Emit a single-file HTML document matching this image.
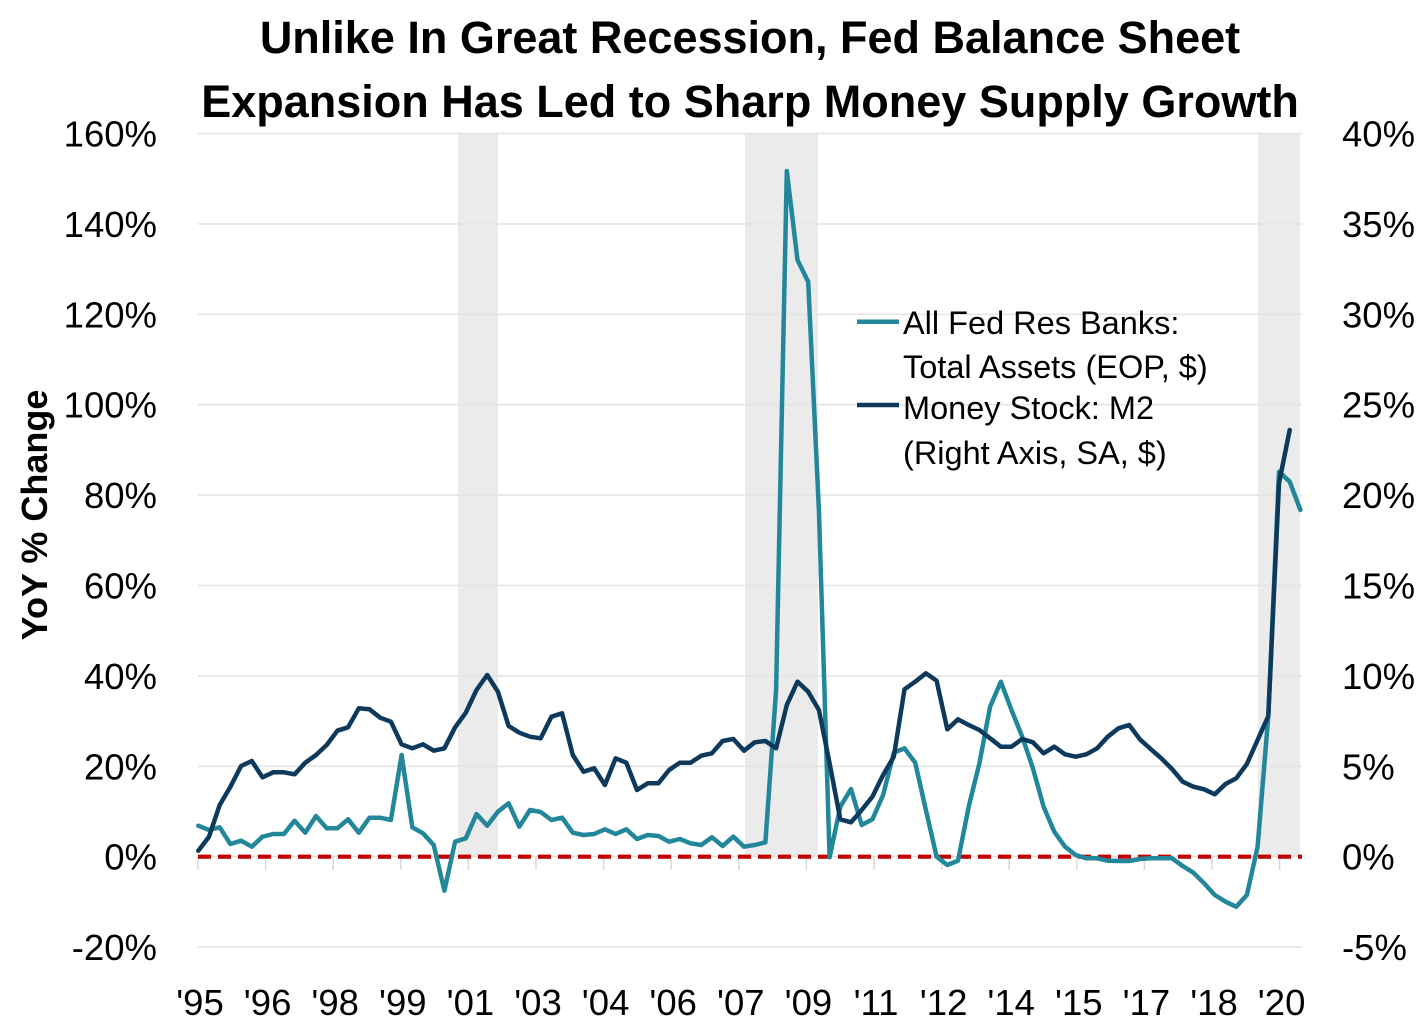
<!DOCTYPE html>
<html>
<head>
<meta charset="utf-8">
<style>
html,body{margin:0;padding:0;background:#fff;}
svg{display:block;}
text{font-family:"Liberation Sans",Arial,sans-serif;fill:#000;}
</style>
</head>
<body>
<svg width="1421" height="1031" viewBox="0 0 1421 1031" xmlns="http://www.w3.org/2000/svg">
<rect x="0" y="0" width="1421" height="1031" fill="#fff"/>

<!-- recession shading -->
<rect x="458" y="133.5" width="40" height="722.5" fill="#ebebeb"/>
<rect x="745" y="133.5" width="73" height="722.5" fill="#ebebeb"/>
<rect x="1258" y="133.5" width="42" height="722.5" fill="#ebebeb"/>

<!-- gridlines -->
<g stroke="#e4e4e4" stroke-width="1.6">
<line x1="198" y1="133.5" x2="1302" y2="133.5"/>
<line x1="198" y1="223.9" x2="1302" y2="223.9"/>
<line x1="198" y1="314.3" x2="1302" y2="314.3"/>
<line x1="198" y1="404.7" x2="1302" y2="404.7"/>
<line x1="198" y1="495.1" x2="1302" y2="495.1"/>
<line x1="198" y1="585.5" x2="1302" y2="585.5"/>
<line x1="198" y1="675.9" x2="1302" y2="675.9"/>
<line x1="198" y1="766.3" x2="1302" y2="766.3"/>
<line x1="198" y1="856.7" x2="1302" y2="856.7"/>
<line x1="198" y1="947.1" x2="1302" y2="947.1"/>
</g>

<!-- x ticks -->
<g stroke="#d9d9d9" stroke-width="1.5">
<line x1="198" y1="857" x2="198" y2="870"/>
<line x1="265.6" y1="857" x2="265.6" y2="870"/>
<line x1="333.2" y1="857" x2="333.2" y2="870"/>
<line x1="400.8" y1="857" x2="400.8" y2="870"/>
<line x1="468.4" y1="857" x2="468.4" y2="870"/>
<line x1="536" y1="857" x2="536" y2="870"/>
<line x1="603.6" y1="857" x2="603.6" y2="870"/>
<line x1="671.2" y1="857" x2="671.2" y2="870"/>
<line x1="738.8" y1="857" x2="738.8" y2="870"/>
<line x1="806.4" y1="857" x2="806.4" y2="870"/>
<line x1="874" y1="857" x2="874" y2="870"/>
<line x1="941.6" y1="857" x2="941.6" y2="870"/>
<line x1="1009.2" y1="857" x2="1009.2" y2="870"/>
<line x1="1076.8" y1="857" x2="1076.8" y2="870"/>
<line x1="1144.4" y1="857" x2="1144.4" y2="870"/>
<line x1="1212" y1="857" x2="1212" y2="870"/>
<line x1="1279.6" y1="857" x2="1279.6" y2="870"/>
</g>

<!-- zero dashed line -->
<line x1="198" y1="856.7" x2="1302" y2="856.7" stroke="#c00000" stroke-width="4.2" stroke-dasharray="13 7"/>

<!-- Fed total assets (teal) -->
<polyline fill="none" stroke="#23879b" stroke-width="4.5" stroke-linejoin="round" stroke-linecap="round" points="198.3,825.7 209,830 219.7,827.3 230.4,844 241.1,840.7 251.8,846.7 262.5,836.7 273.2,834 283.9,834 294.6,820.7 305.3,832.7 316,816 326.7,828.3 337.4,828.3 348.1,819.3 358.8,832.7 369.5,817.7 380.2,817.7 390.9,820 401.6,755 412.3,827.3 423,833.3 433.7,845 444.4,890.7 455.1,841.7 465.8,838.3 476.5,814 487.2,825.7 497.9,811.7 508.6,803.3 519.3,826.7 530,810 540.7,812 551.4,820 562.1,817.7 572.8,832.7 583.5,835 594.2,834 604.9,829.3 615.6,834 626.3,829.3 637,839 647.7,835 658.4,836 669.1,841.7 679.8,839 690.5,843.3 701.2,845 711.9,837.3 722.6,846 733.3,836.7 744,846.7 754.7,845 765.4,842.3 776.1,690 786.8,171 797.5,260 808.2,281.7 818.9,510 829.6,857.3 840.3,806.7 851,789 861.7,825 872.4,819.3 883.1,795 893.8,752.7 904.5,748.3 915.2,762.7 925.9,810 936.6,856.7 947.3,865 958,860.7 968.7,806.7 979.4,763.3 990.1,706.7 1000.8,681.7 1011.5,710 1022.2,736.7 1032.9,768.3 1043.6,806.7 1054.3,831.7 1065,846.7 1075.7,855 1086.4,858.3 1097.1,858.3 1107.8,860.7 1118.5,861 1129.2,861 1139.9,859 1150.6,858.3 1161.3,858.3 1172,858.3 1182.7,866 1193.4,872.7 1204.1,883.3 1214.8,895 1225.5,901.7 1236.2,906.7 1246.9,895 1257.6,846.7 1268.3,716 1279,471.7 1289.7,481.7 1300.4,510"/>

<!-- M2 (dark) -->
<polyline fill="none" stroke="#0d3a5c" stroke-width="4.5" stroke-linejoin="round" stroke-linecap="round" points="198.3,850.7 209,836.7 219.7,805 230.4,786.7 241.1,766 251.8,761 262.5,777.3 273.2,772.3 283.9,772.3 294.6,774.3 305.3,762.7 316,755 326.7,745 337.4,730.7 348.1,727.3 358.8,708.3 369.5,709.3 380.2,717.7 390.9,721.7 401.6,744.3 412.3,748.3 423,744.3 433.7,750.7 444.4,748.3 455.1,727.3 465.8,712.7 476.5,690 487.2,675 497.9,691.7 508.6,726 519.3,732.7 530,736.7 540.7,738.3 551.4,716.7 562.1,713.3 572.8,755 583.5,771.7 594.2,768.3 604.9,785 615.6,758.3 626.3,762.7 637,790 647.7,783.3 658.4,783.3 669.1,770 679.8,762.7 690.5,762.7 701.2,755.7 711.9,753.3 722.6,741 733.3,739 744,750.7 754.7,742.3 765.4,741 776.1,748.3 786.8,705 797.5,681.7 808.2,691.7 818.9,710 829.6,763.3 840.3,819.3 851,822.3 861.7,810 872.4,796.7 883.1,775 893.8,756.7 904.5,689.3 915.2,681.7 925.9,673.3 936.6,680.7 947.3,729.3 958,719.3 968.7,725 979.4,730 990.1,738.3 1000.8,746.7 1011.5,746.7 1022.2,739 1032.9,742.3 1043.6,753.3 1054.3,746.7 1065,754.3 1075.7,756.7 1086.4,754.3 1097.1,748.3 1107.8,736.7 1118.5,728.3 1129.2,725 1139.9,739.3 1150.6,749 1161.3,758.3 1172,769 1182.7,781.7 1193.4,786.7 1204.1,789.3 1214.8,794.3 1225.5,784 1236.2,778.3 1246.9,764 1257.6,740 1268.3,716 1279,483.3 1289.7,430"/>

<!-- title -->
<text x="750" y="53" font-size="45" font-weight="bold" text-anchor="middle">Unlike In Great Recession, Fed Balance Sheet</text>
<text x="750" y="117" font-size="45" font-weight="bold" text-anchor="middle">Expansion Has Led to Sharp Money Supply Growth</text>

<!-- left axis labels -->
<g font-size="36.5" text-anchor="end">
<text x="157" y="146.5">160%</text>
<text x="157" y="236.9">140%</text>
<text x="157" y="327.3">120%</text>
<text x="157" y="417.7">100%</text>
<text x="157" y="508.1">80%</text>
<text x="157" y="598.5">60%</text>
<text x="157" y="688.9">40%</text>
<text x="157" y="779.3">20%</text>
<text x="157" y="869.7">0%</text>
<text x="157" y="960.1">-20%</text>
</g>

<!-- right axis labels -->
<g font-size="36.5" text-anchor="start">
<text x="1342" y="146.5">40%</text>
<text x="1342" y="236.9">35%</text>
<text x="1342" y="327.3">30%</text>
<text x="1342" y="417.7">25%</text>
<text x="1342" y="508.1">20%</text>
<text x="1342" y="598.5">15%</text>
<text x="1342" y="688.9">10%</text>
<text x="1342" y="779.3">5%</text>
<text x="1342" y="869.7">0%</text>
<text x="1342" y="960.1">-5%</text>
</g>

<!-- x labels -->
<g font-size="36.5" text-anchor="middle">
<text x="200" y="1015">'95</text>
<text x="267.6" y="1015">'96</text>
<text x="335.2" y="1015">'98</text>
<text x="402.8" y="1015">'99</text>
<text x="470.4" y="1015">'01</text>
<text x="538" y="1015">'03</text>
<text x="605.6" y="1015">'04</text>
<text x="673.2" y="1015">'06</text>
<text x="740.8" y="1015">'07</text>
<text x="808.4" y="1015">'09</text>
<text x="876" y="1015">'11</text>
<text x="943.6" y="1015">'12</text>
<text x="1011.2" y="1015">'14</text>
<text x="1078.8" y="1015">'15</text>
<text x="1146.4" y="1015">'17</text>
<text x="1214" y="1015">'18</text>
<text x="1281.6" y="1015">'20</text>
</g>

<!-- y axis title -->
<text transform="translate(47,515) rotate(-90)" font-size="36" font-weight="bold" text-anchor="middle">YoY % Change</text>

<!-- legend -->
<line x1="857" y1="321.7" x2="899" y2="321.7" stroke="#23879b" stroke-width="4.5"/>
<line x1="857" y1="405" x2="899" y2="405" stroke="#0d3a5c" stroke-width="4.5"/>
<g font-size="32.5">
<text x="903" y="334">All Fed Res Banks:</text>
<text x="903" y="378">Total Assets (EOP, $)</text>
<text x="903" y="419">Money Stock: M2</text>
<text x="903" y="464">(Right Axis, SA, $)</text>
</g>
</svg>
</body>
</html>
